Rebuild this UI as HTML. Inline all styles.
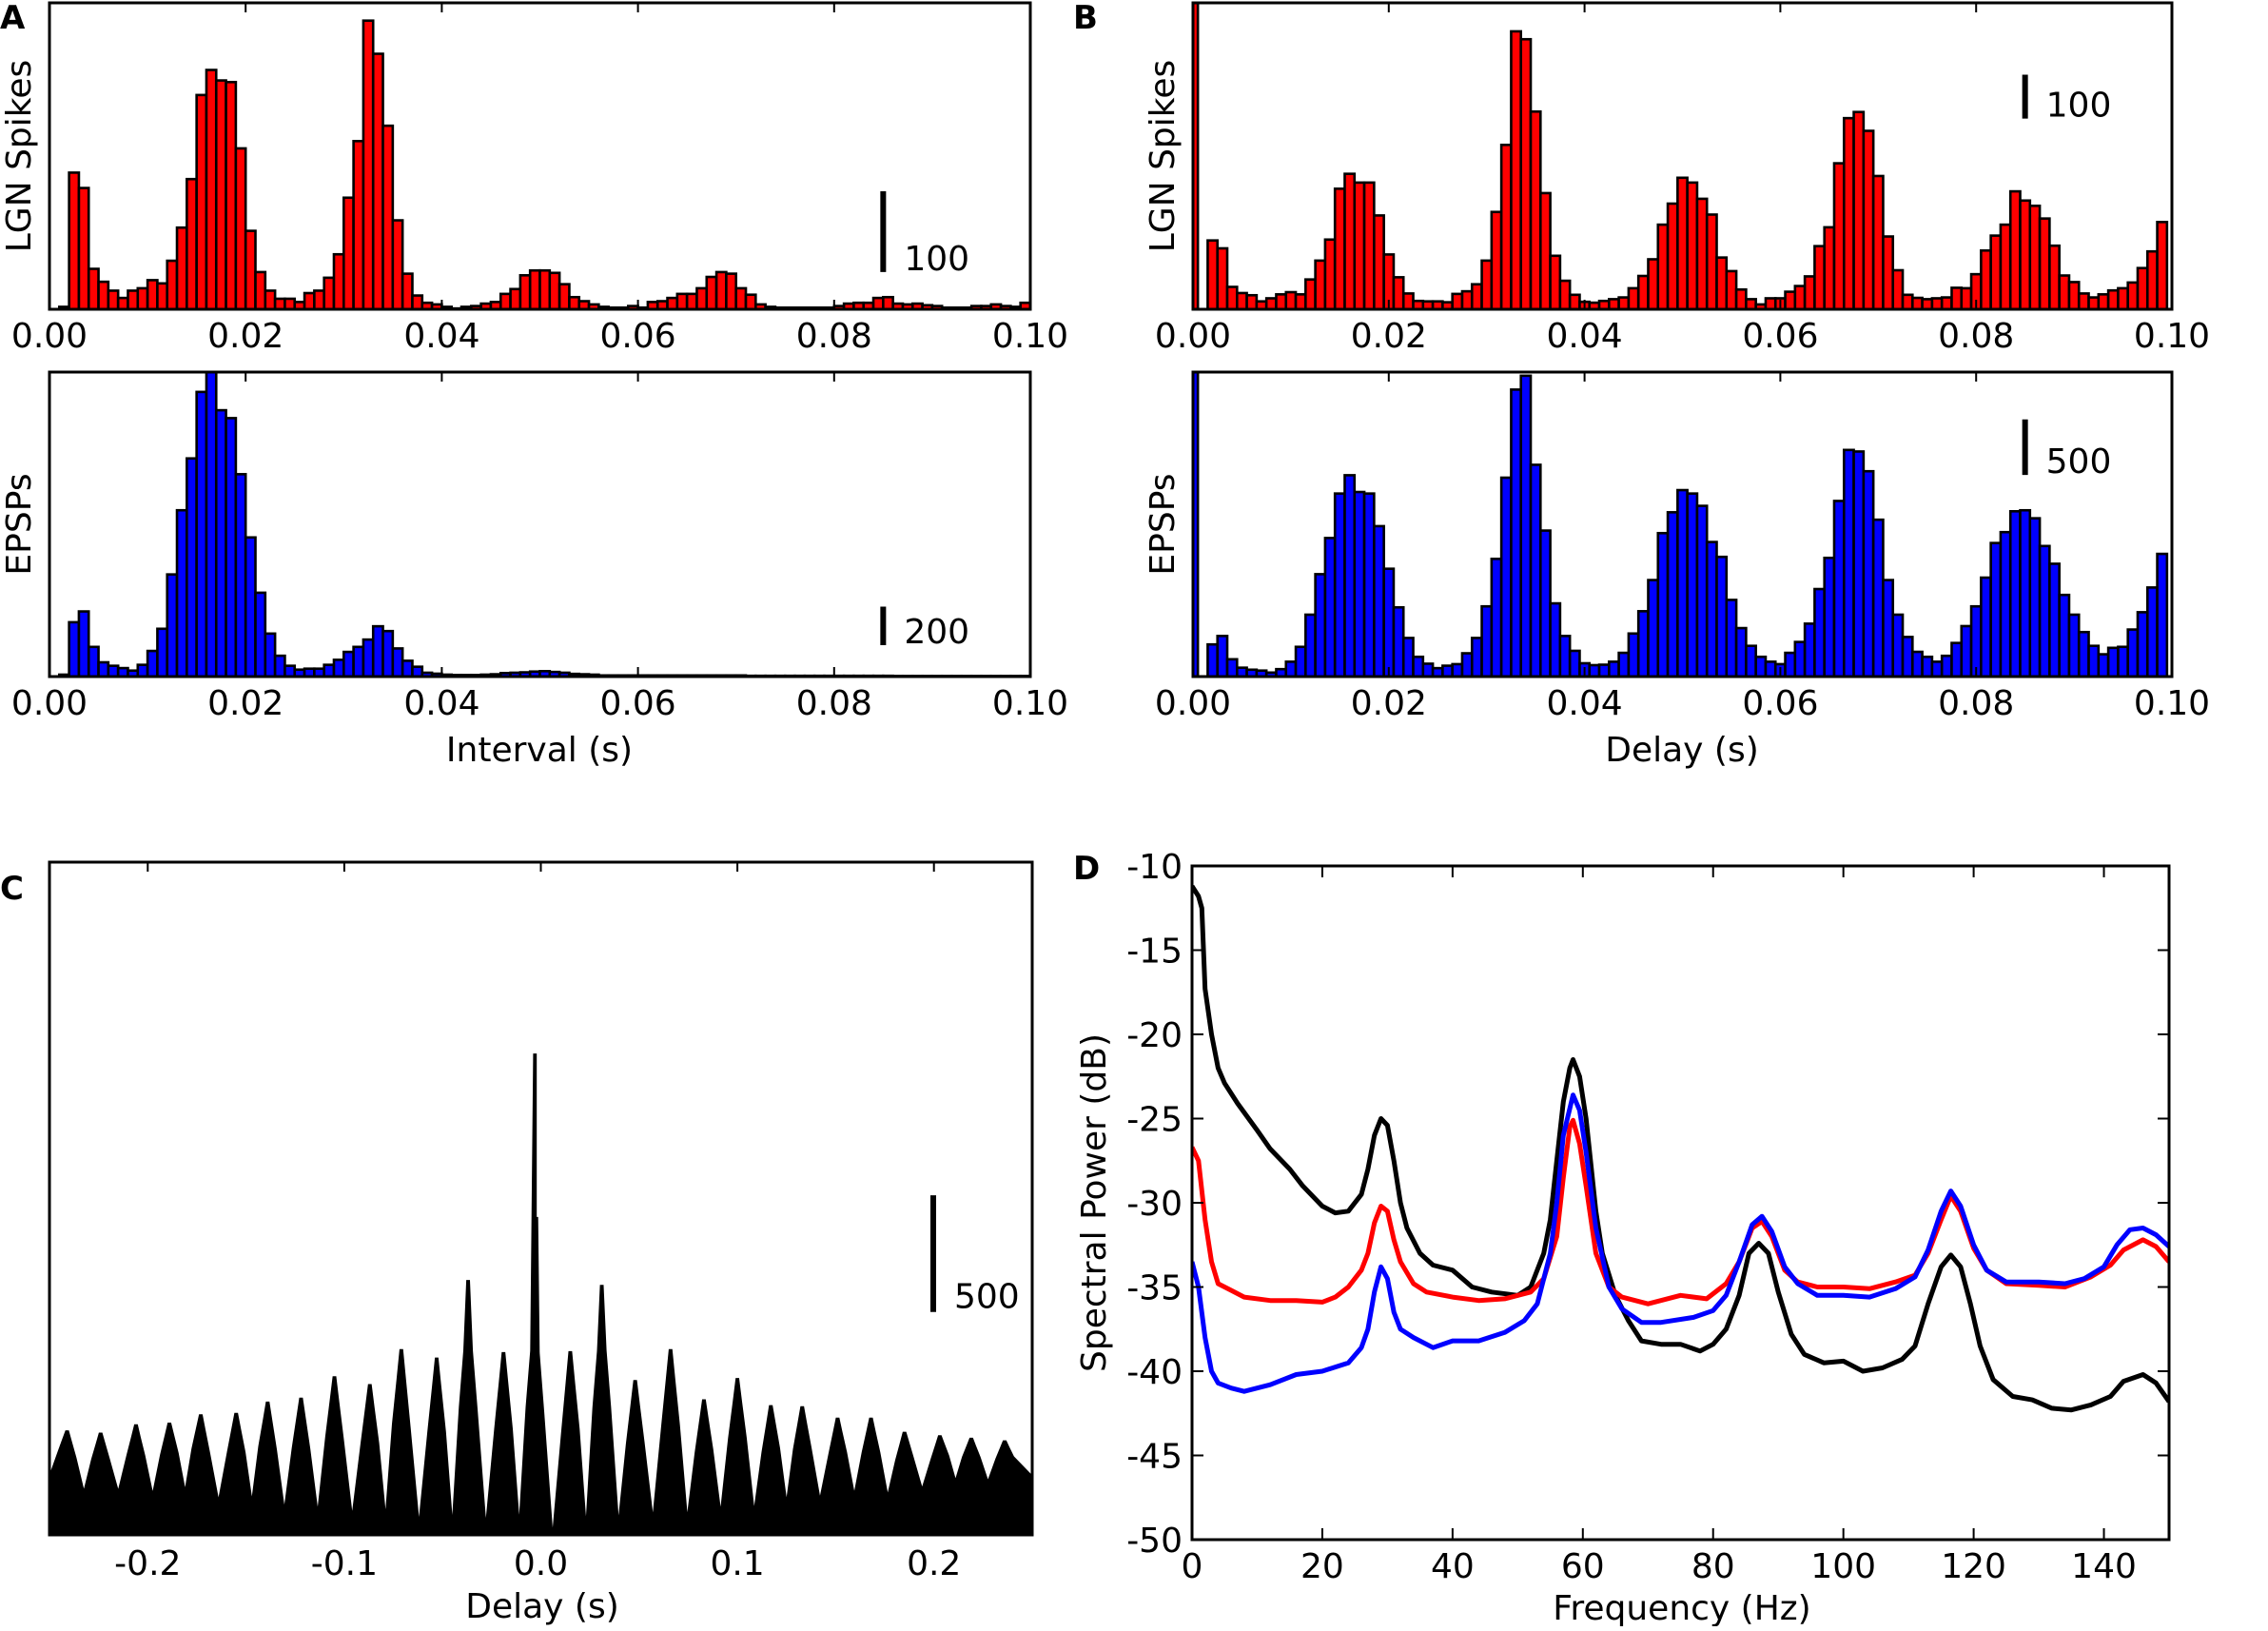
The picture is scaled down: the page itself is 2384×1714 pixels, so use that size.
<!DOCTYPE html>
<html><head><meta charset="utf-8"><style>
html,body{margin:0;padding:0;background:#fff;}
svg text{font-family:"DejaVu Sans","Liberation Sans",sans-serif;fill:#000;}
</style></head><body>
<svg id="fig" xmlns="http://www.w3.org/2000/svg" width="2384" height="1709" viewBox="0 0 2384 1709">
<rect x="0" y="0" width="2384" height="1709" fill="#fff"/>
</svg>
<script>
// ---- Panel A (top): LGN spike intervals, bins [k,k+1) ms
const aLgnCounts=[0,3,169,150,50,34,23,14,23,26,36,32,60,101,161,265,296,283,281,199,97,46,23,13,13,9,20,23,39,68,138,208,357,316,227,110,44,17,8,6,3,1,3,4,7,9,19,25,42,48,48,45,31,15,10,6,3,2,2,4,2,9,10,14,19,19,26,40,46,44,26,18,6,3,2,2,2,2,2,2,4,7,8,8,14,15,7,6,7,5,4,2,2,2,4,4,6,4,3,8];
// ---- Panel A (bottom): EPSP intervals
const aEpspCounts=[0,10,282,338,154,74,56,44,31,61,133,248,530,863,1132,1477,1580,1382,1341,1050,722,435,223,108,56,36,41,41,61,87,128,154,192,261,236,146,82,51,20,15,10,8,8,8,10,12,18,20,22,26,28,24,20,14,12,10,6,6,6,6,6,6,6,6,6,6,6,6,6,6,6,4,4,4,4,4,4,4,4,4,4,4,4,4,4,4,3,3,3,3,3,3,3,3,3,3,3,3,3,3];
// ---- Panel B (top): LGN spike delays, bins centred on k ms
const bLgnCounts=[900,0,157,139,51,37,32,18,25,34,39,34,68,111,159,275,309,289,289,214,125,73,36,19,18,18,16,35,41,57,111,222,375,634,616,451,265,122,65,33,17,15,19,23,27,48,76,114,193,241,300,289,252,216,118,87,45,23,11,25,25,40,53,75,144,187,333,436,450,407,304,166,89,33,26,23,25,27,49,48,80,134,168,193,269,248,236,207,145,77,62,36,27,34,43,48,61,94,132,199];
// ---- Panel B (bottom): EPSP delays
const bEpspCounts=[3000,0,290,366,156,80,62,54,36,67,134,268,558,923,1249,1650,1815,1664,1650,1356,972,624,348,178,116,76,98,112,210,348,633,1061,1793,2587,2712,1909,1316,660,366,232,120,103,107,134,214,388,589,870,1293,1481,1681,1650,1539,1213,1079,691,437,277,178,134,112,214,312,477,789,1070,1583,2043,2029,1851,1414,870,558,357,223,178,134,187,303,455,633,892,1204,1302,1490,1499,1427,1177,1017,736,558,401,277,201,259,268,424,580,803,1106];
const histTicks=["0.00","0.02","0.04","0.06","0.08","0.10"];
// ---- Panel C: cross-correlogram peaks and troughs
const cPeakDelay=[-0.241,-0.224,-0.206,-0.189,-0.173,-0.155,-0.139,-0.122,-0.105,-0.087,-0.071,-0.053,-0.037,-0.019,-0.003,0.015,0.031,0.048,0.066,0.083,0.100,0.117,0.133,0.151,0.168,0.185,0.203,0.219,0.236];
const cPeakCount=[446,436,472,479,515,521,569,586,678,644,794,758,1090,781,2060,785,1069,661,794,579,670,554,549,500,500,440,425,414,403];
const cTroughCount=[253,189,189,178,193,150,150,114,103,86,86,56,56,49,56,6,49,60,77,77,103,107,146,157,178,172,200,236,232,253];
const cTicks=[-0.2,-0.1,0.0,0.1,0.2];
const cTickLabels=["-0.2","-0.1","0.0","0.1","0.2"];
// ---- Panel D: spectral power
const dBlackF=[0,1,1.5,2,3,4,5,7,10,12,15,17,20,22,24,26,27,28,29,30,31,32,33,35,37,40,43,46,50,52,54,55,56,57,58,58.5,59.5,60.5,62,63,65,67,69,72,75,78,80,82,84,85.5,87,88.5,90,92,94,97,100,103,106,109,111,113,115,116.5,118,119.5,121,123,126,129,132,135,138,141,143,146,148,150];
const dBlackP=[-11.2,-11.8,-12.5,-17.3,-20,-22,-22.9,-24.1,-25.7,-26.8,-28,-29,-30.2,-30.6,-30.5,-29.5,-28,-26,-25,-25.4,-27.5,-30,-31.5,-33,-33.7,-34,-35,-35.3,-35.5,-35,-33,-31,-27.5,-24,-22,-21.5,-22.5,-25,-30.5,-33,-35.5,-37,-38.2,-38.4,-38.4,-38.8,-38.4,-37.5,-35.5,-33,-32.4,-33,-35.3,-37.8,-39,-39.5,-39.4,-40,-39.8,-39.3,-38.5,-36,-33.8,-33.1,-33.8,-36,-38.5,-40.5,-41.5,-41.7,-42.2,-42.3,-42,-41.5,-40.6,-40.2,-40.7,-41.8];
const dRedF=[0,1,2,3,4,6,8,12,16,20,22,24,26,27,28,29,30,31,32,34,36,40,44,48,52,54,56,57,58,58.5,59.5,60.5,62,64,66,70,75,79,82,84,86,87.5,89,91,93,96,100,104,108,111,113,115,116.5,118,120,122,125,130,134,138,141,143,146,148,150];
const dRedP=[-26.7,-27.5,-31,-33.5,-34.8,-35.2,-35.6,-35.8,-35.8,-35.9,-35.6,-35,-34,-33,-31.2,-30.2,-30.5,-32.2,-33.5,-34.8,-35.3,-35.6,-35.8,-35.7,-35.3,-34.5,-32,-28.5,-25.5,-25.1,-26.5,-29,-33,-35,-35.6,-36,-35.5,-35.7,-34.8,-33.5,-31.5,-31.1,-32,-34,-34.7,-35,-35,-35.1,-34.7,-34.3,-33,-31,-29.6,-30.5,-32.7,-34,-34.8,-34.9,-35,-34.4,-33.7,-32.8,-32.2,-32.6,-33.5];
const dBlueF=[0,1,2,3,4,6,8,12,16,20,24,26,27,28,29,30,31,32,34,37,40,44,48,51,53,55,56,57,58.5,59.5,60.5,62,64,66,69,72,77,80,82,84,86,87.5,89,91,93,96,100,104,108,111,113,115,116.5,118,120,122,125,130,134,137,140,142,144,146,148,150];
const dBlueP=[-33.5,-35,-38,-40,-40.7,-41,-41.2,-40.8,-40.2,-40,-39.5,-38.6,-37.5,-35.3,-33.8,-34.5,-36.5,-37.5,-38,-38.6,-38.2,-38.2,-37.7,-37,-36,-33,-30,-26,-23.6,-24.5,-27,-31.5,-35,-36.3,-37.1,-37.1,-36.8,-36.4,-35.5,-33.5,-31.3,-30.8,-31.7,-33.8,-34.8,-35.5,-35.5,-35.6,-35.1,-34.4,-32.8,-30.5,-29.3,-30.2,-32.5,-34,-34.7,-34.7,-34.8,-34.5,-33.8,-32.5,-31.6,-31.5,-31.9,-32.6];
const dXTicks=[0,20,40,60,80,100,120,140];
const dYTicks=[-10,-15,-20,-25,-30,-35,-40,-45,-50];

const NS="http://www.w3.org/2000/svg";
const svg=document.getElementById('fig');
function mk(tag,attrs,parent){const e=document.createElementNS(NS,tag);for(const k in attrs)e.setAttribute(k,attrs[k]);(parent||svg).appendChild(e);return e;}
function txt(s,x,y,size,anchor,parent,extra){const t=mk('text',Object.assign({x:x,y:y,'font-size':size,'text-anchor':anchor||'middle'},extra||{}),parent);t.textContent=s;return t;}

function histPanel(name,box,counts,ymax,centred,color,ylabel,scaleVal,scaleBottom,scaleLabel){
  const g=mk('g',{});
  
  
  const sx=v=>box.x0+(v/0.1)*(box.x1-box.x0);
  const sy=v=>box.y1-(v/ymax)*(box.y1-box.y0);
  const cid='clip-'+name;
  const cp=mk('clipPath',{id:cid},g);mk('rect',{x:box.x0,y:box.y0,width:box.x1-box.x0,height:box.y1-box.y0},cp);
  const bars=mk('g',{'clip-path':'url(#'+cid+')'},g);
  counts.forEach((c,k)=>{
    if(c<=0)return;
    const l=centred?(k-0.5)*0.001:k*0.001;
    const x0=sx(Math.max(l,0)),x1=sx(l+0.001);
    const y=sy(c);
    const r=mk('rect',{x:x0,y:Math.max(y,box.y0-5),width:x1-x0,height:box.y1-Math.max(y,box.y0-5),fill:color,stroke:'#000','stroke-width':2.6},bars);
    
    
  });
  const fr=mk('rect',{x:box.x0,y:box.y0,width:box.x1-box.x0,height:box.y1-box.y0,fill:'none',stroke:'#000','stroke-width':3},g);
  
  
  histTicks.forEach((t,i)=>{
    const x=sx(i*0.02);
    mk('line',{x1:x,y1:box.y1,x2:x,y2:box.y1-10,stroke:'#000','stroke-width':2},g);
    mk('line',{x1:x,y1:box.y0,x2:x,y2:box.y0+10,stroke:'#000','stroke-width':2},g);
    const tl=txt(t,x,box.y1+40,36,'middle',g);
    
    
  });
  const cy=(box.y0+box.y1)/2, lx=box.x0-20;
  const yl=txt(ylabel,lx,cy,36,'middle',g,{transform:'rotate(-90 '+lx+' '+cy+')'});
  
  
  const bx=sx(0.085);
  const sb=mk('line',{x1:bx,y1:sy(scaleBottom),x2:bx,y2:sy(scaleBottom+scaleVal),stroke:'#000','stroke-width':6},g);
  
  
  const sl=txt(scaleLabel,bx+22,sy(scaleBottom)-2,36,'start',g);
  
  
}
histPanel('panel-a-lgn',{x0:52,x1:1083,y0:3,y1:325},aLgnCounts,379,false,'#ff0000','LGN Spikes',100,46,'100');
histPanel('panel-a-epsp',{x0:52,x1:1083,y0:391,y1:711},aEpspCounts,1580,false,'#0000ff','EPSPs',200,163,'200');
histPanel('panel-b-lgn',{x0:1254,x1:2283,y0:3,y1:325},bLgnCounts,699,true,'#ff0000','LGN Spikes',100,435,'100');
histPanel('panel-b-epsp',{x0:1254,x1:2283,y0:391,y1:711},bEpspCounts,2745,true,'#0000ff','EPSPs',500,1818,'500');
let t;
t=txt('Interval (s)',567,800,36,'middle');
t=txt('Delay (s)',1768,800,36,'middle');

// ---- Panel C
(function(){
  const box={x0:52,x1:1085,y0:906,y1:1613};const ymax=2882;
  const g=mk('g',{});
  
  
  const sx=v=>box.x0+((v+0.25)/0.5)*(box.x1-box.x0);
  const sy=v=>box.y1-(v/ymax)*(box.y1-box.y0);
  let pts=[[-0.25,cTroughCount[0]]];
  cPeakDelay.forEach((d,i)=>{
    const p=cPeakCount[i],tl=cTroughCount[i],tr=cTroughCount[i+1];
    const cap=Math.min(p,950);
    const prev=i>0?(cPeakDelay[i-1]+d)/2:-0.25;
    const next=i<cPeakDelay.length-1?(cPeakDelay[i+1]+d)/2:0.25;
    pts.push([prev,tl]);
    pts.push([d-0.0045,tl+0.55*(cap-tl)]);
    pts.push([d-0.0022,tl+0.82*(cap-tl)]);
    pts.push([d-0.0007,p]);pts.push([d+0.0007,p]);
    if(p>1500){pts.push([d+0.0007,1360]);pts.push([d+0.0014,1360]);}
    pts.push([d+0.0022,tr+0.82*(cap-tr)]);
    pts.push([d+0.0045,tr+0.55*(cap-tr)]);
    pts.push([next,tr]);
  });
  let dstr='M'+sx(-0.25)+','+box.y1;
  pts.forEach(p=>{dstr+=' L'+sx(p[0]).toFixed(1)+','+sy(p[1]).toFixed(1);});
  dstr+=' L'+sx(0.25)+','+box.y1+' Z';
  const a=mk('path',{d:dstr,fill:'#000',stroke:'#000','stroke-width':1},g);
  
  
  const fr=mk('rect',{x:box.x0,y:box.y0,width:box.x1-box.x0,height:box.y1-box.y0,fill:'none',stroke:'#000','stroke-width':3},g);
  
  
  cTicks.forEach((v,i)=>{
    const x=sx(v);
    mk('line',{x1:x,y1:box.y1,x2:x,y2:box.y1-10,stroke:'#000','stroke-width':2},g);
    mk('line',{x1:x,y1:box.y0,x2:x,y2:box.y0+10,stroke:'#000','stroke-width':2},g);
    const tl=txt(cTickLabels[i],x,box.y1+42,36,'middle',g);
    
    
  });
  const bx=981;
  const sb=mk('line',{x1:bx,y1:sy(955),x2:bx,y2:sy(1455),stroke:'#000','stroke-width':6},g);
  
  
  const sl=txt('500',1003,sy(955)-4,36,'start',g);
  
  
  const xt=txt('Delay (s)',570,1700,36,'middle',g);
  
  
})();

// ---- Panel D
(function(){
  const box={x0:1253,x1:2280,y0:910,y1:1618};
  const g=mk('g',{});
  
  
  const sx=v=>box.x0+(v/150)*(box.x1-box.x0);
  const sy=v=>box.y1-((v+50)/40)*(box.y1-box.y0);
  const cp=mk('clipPath',{id:'clip-d'},g);mk('rect',{x:box.x0,y:box.y0,width:box.x1-box.x0,height:box.y1-box.y0},cp);
  const lg=mk('g',{'clip-path':'url(#clip-d)'},g);
  function line(F,P,col,nm){
    const d=F.map((f,i)=>(i?'L':'M')+sx(f).toFixed(1)+','+sy(P[i]).toFixed(1)).join(' ');
    const p=mk('path',{d:d,fill:'none',stroke:col,'stroke-width':5,'stroke-linejoin':'round'},lg);
    
    
  }
  line(dBlackF,dBlackP,'#000000','black-spectrum-line');
  line(dRedF,dRedP,'#ff0000','red-spectrum-line');
  line(dBlueF,dBlueP,'#0000ff','blue-spectrum-line');
  const fr=mk('rect',{x:box.x0,y:box.y0,width:box.x1-box.x0,height:box.y1-box.y0,fill:'none',stroke:'#000','stroke-width':3},g);
  
  
  dXTicks.forEach(v=>{
    const x=sx(v);
    mk('line',{x1:x,y1:box.y1,x2:x,y2:box.y1-12,stroke:'#000','stroke-width':2},g);
    mk('line',{x1:x,y1:box.y0,x2:x,y2:box.y0+12,stroke:'#000','stroke-width':2},g);
    const tl=txt(String(v),x,box.y1+40,36,'middle',g);
    
    
  });
  dYTicks.forEach(v=>{
    const y=sy(v);
    mk('line',{x1:box.x0,y1:y,x2:box.x0+12,y2:y,stroke:'#000','stroke-width':2},g);
    mk('line',{x1:box.x1,y1:y,x2:box.x1-12,y2:y,stroke:'#000','stroke-width':2},g);
    const tl=txt(String(v),box.x0-10,y+13,36,'end',g);
    
    
  });
  const cy=(box.y0+box.y1)/2,lx=1162;
  const yl=txt('Spectral Power (dB)',lx,cy,36,'middle',g,{transform:'rotate(-90 '+lx+' '+cy+')'});
  
  
  const xt=txt('Frequency (Hz)',1768,1702,36,'middle',g);
  
  
})();

// panel letters
[['A',0,30],['B',1128,30],['C',0,945],['D',1128,924]].forEach(l=>{
  const e=txt(l[0],l[1],l[2],34,'start',null,{'font-weight':'bold'});
  
  
});
</script>
</body></html>
